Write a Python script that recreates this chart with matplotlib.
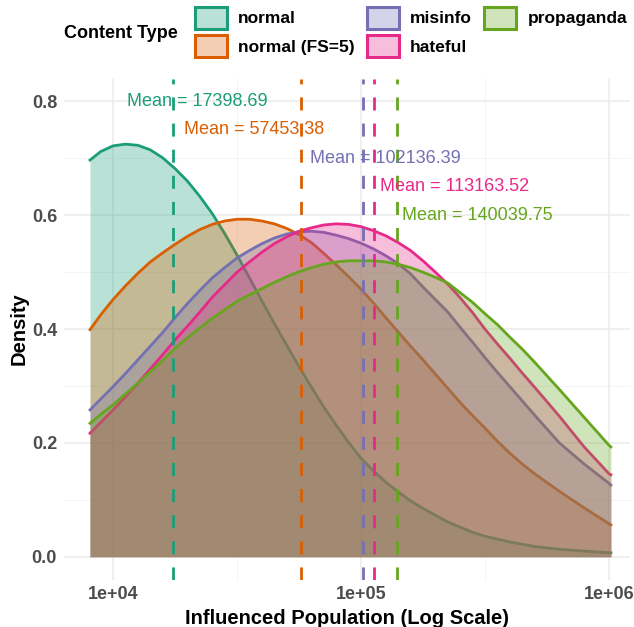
import matplotlib.pyplot as plt
from matplotlib.colors import to_rgb
from matplotlib.patches import Patch
from matplotlib.ticker import FixedLocator, NullFormatter

plt.rcParams['font.family'] = ['Liberation Sans', 'DejaVu Sans']

# density curves, on a log10(population) grid
log_x = [3.907, 3.95, 4.0, 4.05, 4.1, 4.15, 4.2, 4.25, 4.3, 4.35, 4.4, 4.45,
         4.5, 4.55, 4.6, 4.65, 4.7, 4.75, 4.8, 4.85, 4.9, 4.95, 5.0, 5.05,
         5.1, 5.15, 5.2, 5.25, 5.3, 5.35, 5.4, 5.45, 5.5, 5.55, 5.6, 5.65,
         5.7, 5.8, 5.9, 6.0, 6.008]
population = [10 ** v for v in log_x]

dens_normal = [0.697, 0.712, 0.722, 0.725, 0.723, 0.715, 0.701, 0.682, 0.660, 0.633,
               0.603, 0.568, 0.530, 0.490, 0.450, 0.410, 0.372, 0.334, 0.298, 0.263,
               0.231, 0.201, 0.173, 0.151, 0.131, 0.114, 0.098, 0.085, 0.073, 0.061,
               0.052, 0.043, 0.036, 0.031, 0.026, 0.022, 0.018, 0.013, 0.010, 0.007,
               0.007]
dens_normal_fs5 = [0.399, 0.425, 0.452, 0.476, 0.498, 0.518, 0.534, 0.549, 0.563, 0.575,
                   0.584, 0.590, 0.593, 0.593, 0.590, 0.585, 0.577, 0.566, 0.552, 0.533,
                   0.513, 0.492, 0.470, 0.446, 0.420, 0.395, 0.370, 0.346, 0.321, 0.296,
                   0.271, 0.248, 0.226, 0.203, 0.182, 0.163, 0.146, 0.115, 0.086, 0.058,
                   0.056]
dens_misinfo = [0.258, 0.277, 0.299, 0.322, 0.346, 0.370, 0.394, 0.420, 0.445, 0.468,
                0.490, 0.508, 0.525, 0.538, 0.550, 0.560, 0.567, 0.571, 0.572, 0.570,
                0.565, 0.559, 0.551, 0.541, 0.529, 0.515, 0.497, 0.474, 0.452, 0.430,
                0.403, 0.377, 0.350, 0.324, 0.299, 0.274, 0.249, 0.200, 0.163, 0.129,
                0.126]
dens_hateful = [0.217, 0.236, 0.258, 0.281, 0.305, 0.330, 0.355, 0.381, 0.405, 0.430,
                0.456, 0.478, 0.500, 0.518, 0.535, 0.550, 0.562, 0.572, 0.578, 0.583,
                0.585, 0.584, 0.580, 0.573, 0.564, 0.552, 0.538, 0.520, 0.500, 0.479,
                0.455, 0.429, 0.400, 0.374, 0.349, 0.323, 0.298, 0.247, 0.193, 0.146,
                0.144]
dens_propaganda = [0.2345, 0.250, 0.267, 0.286, 0.305, 0.325, 0.345, 0.366, 0.385, 0.402,
                   0.419, 0.434, 0.449, 0.460, 0.471, 0.482, 0.492, 0.501, 0.508, 0.514,
                   0.518, 0.520, 0.520, 0.520, 0.518, 0.514, 0.508, 0.500, 0.491, 0.481,
                   0.464, 0.447, 0.427, 0.408, 0.386, 0.365, 0.342, 0.294, 0.245, 0.196,
                   0.193]

groups = ['normal', 'normal (FS=5)', 'misinfo', 'hateful', 'propaganda']
densities = [dens_normal, dens_normal_fs5, dens_misinfo, dens_hateful, dens_propaganda]
means = [17398.69, 57453.38, 102136.39, 113163.52, 140039.75]
label_x = [11380, 19270, 62200, 118900, 146600]
label_y = [0.80, 0.75, 0.70, 0.65, 0.60]
colors = ['#1B9E77', '#D95F02', '#7570B3', '#E7298A', '#66A61E']

fig = plt.figure(figsize=(6.34, 6.27), dpi=100)
ax = fig.add_axes([64 / 634, 1 - 579.5 / 627, (630 - 64) / 634, (579.5 - 78.7) / 627])

# each group: translucent fill, then its outline
for dens, col in zip(densities, colors):
    ax.fill_between(population, 0, dens, color=col, alpha=0.3, linewidth=0, zorder=2)
    ax.plot(population, dens, color=col, lw=2.0, zorder=2, solid_joinstyle='round')

for m, col in zip(means, colors):
    ax.axvline(m, color=col, lw=2.0, ls=(0, (4.7, 4.7)), zorder=3)

for m, lx, ly, col in zip(means, label_x, label_y, colors):
    ax.text(lx, ly, f'Mean = {m:.2f}', color=col, fontsize=13, ha='left',
            va='center', zorder=4)

ax.set_xscale('log')
ax.set_xlim(10 ** 3.802, 10 ** 6.085)
ax.set_ylim(-0.04, 0.84)
ax.xaxis.set_major_locator(FixedLocator([1e4, 1e5, 1e6]))
ax.xaxis.set_minor_locator(FixedLocator([10 ** 4.5, 10 ** 5.5]))
ax.xaxis.set_minor_formatter(NullFormatter())
ax.set_xticklabels(['1e+04', '1e+05', '1e+06'])
ax.set_yticks([0.0, 0.2, 0.4, 0.6, 0.8])
ax.set_yticks([0.1, 0.3, 0.5, 0.7], minor=True)
ax.set_yticklabels(['0.0', '0.2', '0.4', '0.6', '0.8'])

ax.grid(which='major', color='#EBEBEB', lw=1.1, zorder=0)
ax.grid(which='minor', color='#F2F2F2', lw=0.6, zorder=0)
ax.set_axisbelow(True)
for s in ax.spines.values():
    s.set_visible(False)
ax.tick_params(which='both', length=0)
ax.tick_params(axis='both', labelsize=13, labelcolor='#4D4D4D', pad=5)
for t in ax.get_xticklabels() + ax.get_yticklabels():
    t.set_fontweight('bold')

ax.set_xlabel('Influenced Population (Log Scale)', fontsize=14.5, fontweight='bold', labelpad=4)
ax.set_ylabel('Density', fontsize=14.5, fontweight='bold', labelpad=2.5)

handles = [Patch(facecolor=(*to_rgb(col), 0.3), edgecolor=col, lw=2.2) for col in colors]
leg = fig.legend(handles, groups, ncol=3, loc='upper left',
                 bbox_to_anchor=(179 / 634, 1 + 9 / 627),
                 frameon=False, fontsize=12.5, handlelength=1.85, handleheight=1.6,
                 columnspacing=0.7, labelspacing=0.33, handletextpad=0.65)
for t in leg.get_texts():
    t.set_fontweight('bold')
fig.text(64 / 634, 1 - 33 / 627, 'Content Type', fontsize=13, fontweight='bold', va='center')

fig.savefig('out.png', dpi=100)
